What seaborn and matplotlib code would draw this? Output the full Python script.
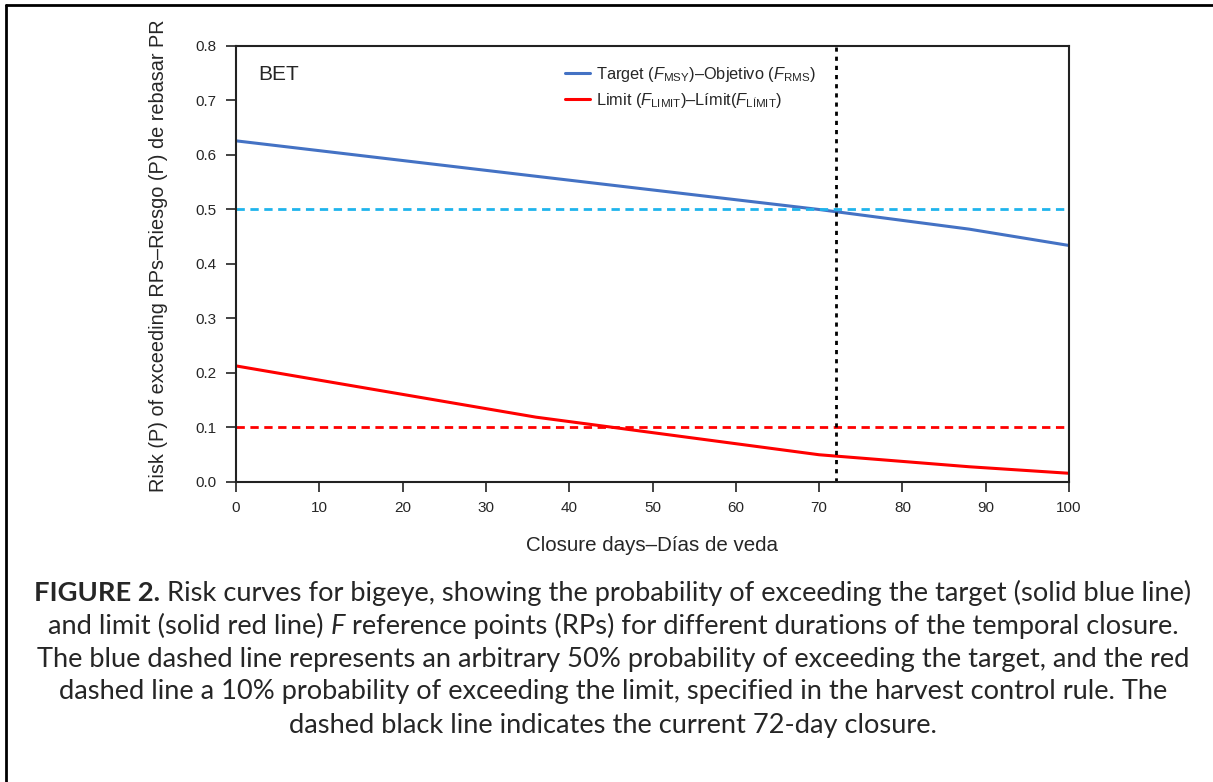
import numpy as np
import pandas as pd
import seaborn as sns
import matplotlib.pyplot as plt
from matplotlib.lines import Line2D

sns.set_theme(style="ticks")
plt.rcParams['font.family'] = ['Liberation Sans', 'DejaVu Sans']
plt.rcParams['mathtext.fontset'] = 'custom'
plt.rcParams['mathtext.rm'] = 'Liberation Sans'
plt.rcParams['mathtext.it'] = 'Liberation Sans:italic'

# Values
closure_days = [0, 36, 70, 88, 100]
target_risk = [0.626, 0.561, 0.500, 0.464, 0.434]
limit_risk = [0.213, 0.119, 0.050, 0.028, 0.016]
target_threshold = 0.5
limit_threshold = 0.1
current_closure = 72
x_ticks = [0, 10, 20, 30, 40, 50, 60, 70, 80, 90, 100]
y_ticks = [0.0, 0.1, 0.2, 0.3, 0.4, 0.5, 0.6, 0.7, 0.8]

df = pd.DataFrame({
    "days": closure_days * 2,
    "risk": target_risk + limit_risk,
    "curve": ["target"] * len(closure_days) + ["limit"] * len(closure_days),
})

W, H = 1213, 782
fig = plt.figure(figsize=(W / 100, H / 100), dpi=100)
ax = fig.add_axes([236 / W, 1 - 482 / H, (1069 - 236) / W, (482 - 46) / H])

blue, red = "#4472c4", "#ff0000"
sns.lineplot(data=df, x="days", y="risk", hue="curve", palette={"target": blue, "limit": red},
             linewidth=2.2, legend=False, ax=ax)
ax.axhline(target_threshold, color="#1fb4ec", linestyle=(0, (3, 2)), linewidth=2)
ax.axhline(limit_threshold, color=red, linestyle=(0, (3, 2)), linewidth=2)
ax.axvline(current_closure, color="black", linestyle=(0, (1.5, 1.8)), linewidth=2)

ax.set_xlim(0, 100)
ax.set_ylim(0, 0.8)
ax.set_xticks(x_ticks)
ax.set_yticks(y_ticks)
ax.set_xticklabels([str(t) for t in x_ticks])
ax.set_yticklabels([f"{t:.1f}" for t in y_ticks])
ax.tick_params(axis="both", direction="out", length=7, width=1.2, labelsize=11, pad=7, color="#222222")
for side in ax.spines.values():
    side.set_linewidth(1.5)
    side.set_color("#222222")

ax.set_xlabel("Closure days–Días de veda", fontsize=14.8, labelpad=15)
ax.set_ylabel("Risk (P) of exceeding RPs–Riesgo (P) de rebasar PR", fontsize=14.3)
ax.yaxis.set_label_coords(-0.082, 0.52)
ax.text(0.027, 0.935, "BET", transform=ax.transAxes, fontsize=15, va="center", ha="left")

handles = [Line2D([], [], color=blue, linewidth=2.2), Line2D([], [], color=red, linewidth=2.2)]
labels = [r"Target ($F_{\mathrm{MSY}}$)–Objetivo ($F_{\mathrm{RMS}}$)",
          r"Limit ($F_{\mathrm{LIMIT}}$)–Límit($F_{\mathrm{LÍMIT}}$)"]
ax.legend(handles, labels, loc="upper left", bbox_to_anchor=((550 - 236) / 833, 0.991),
          frameon=False, fontsize=11.8, handlelength=1.55, handletextpad=0.35, labelspacing=0.42)

# outer frame (top and left edges)
fig.add_artist(Line2D([6 / W, 6 / W], [0, 1 - 5 / H], color="black", linewidth=2, transform=fig.transFigure))
fig.add_artist(Line2D([6 / W, 1], [1 - 5 / H, 1 - 5 / H], color="black", linewidth=2, transform=fig.transFigure))

# caption, drawn as runs of differently styled text
caption_font = ["Lato", "DejaVu Sans"]
caption_size = 19.6
caption_lines = [
    [("FIGURE 2.", "bold", "normal"),
     (" Risk curves for bigeye, showing the probability of exceeding the target (solid blue line)", "normal", "normal")],
    [("and limit (solid red line) ", "normal", "normal"), ("F", "normal", "italic"),
     (" reference points (RPs) for different durations of the temporal closure.", "normal", "normal")],
    [("The blue dashed line represents an arbitrary 50% probability of exceeding the target, and the red", "normal", "normal")],
    [("dashed line a 10% probability of exceeding the limit, specified in the harvest control rule. The", "normal", "normal")],
    [("dashed black line indicates the current 72-day closure.", "normal", "normal")],
]
caption_y = [593, 626, 659, 692, 725]
center_x = 613

renderer = fig.canvas.get_renderer()
for runs, ypix in zip(caption_lines, caption_y):
    pieces = []
    for txt, weight, style in runs:
        t = fig.text(0, 1 - ypix / H, txt, family=caption_font, fontsize=caption_size,
                     fontweight=weight, fontstyle=style, va="center", ha="left")
        w = t.get_window_extent(renderer).width
        pieces.append((t, w))
    total = sum(w for _, w in pieces)
    x = center_x - total / 2
    for t, w in pieces:
        t.set_x(x / W)
        x += w

fig.savefig("out.png", dpi=100)
